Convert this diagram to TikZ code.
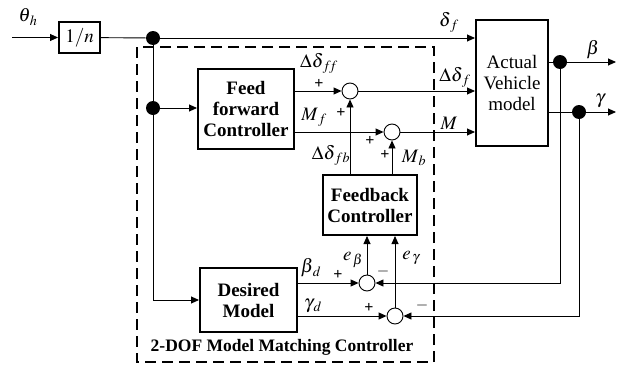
\documentclass[tikz,border=0pt]{standalone}
\usepackage{mathptmx}
\usepackage{fontspec}
\setmainfont{Liberation Serif}
\usetikzlibrary{arrows.meta,calc}
\begin{document}
\begin{tikzpicture}[x=1pt,y=-1pt,
  line width=0.9pt,
  arr/.style={-{Triangle[length=8pt,width=7pt]}},
  blk/.style={draw,line width=2pt,inner sep=0pt,align=center,
    font=\bfseries\fontsize{19}{21}\selectfont},
  nblk/.style={draw,line width=2pt,inner sep=0pt,align=center,
    font=\fontsize{19}{21}\selectfont},
  sumj/.style={draw,circle,minimum size=16pt,inner sep=0pt,line width=0.9pt},
  dotj/.style={fill,circle,minimum size=14pt,inner sep=0pt},
  lbl/.style={inner sep=0pt,font=\fontsize{19}{21}\selectfont},
  sgn/.style={inner sep=0pt,font=\bfseries\fontsize{16}{18}\selectfont},
  dashbox/.style={draw,line width=1.8pt,dash pattern=on 11pt off 6pt}
]
\useasboundingbox (0,0) rectangle (617,367);

% dashed controller frame
\draw[dashbox] (137,47) rectangle (434,362);

% blocks
\node[nblk,minimum width=41pt,minimum height=31pt] (inv) at (79.5,37.5) {$1/n$};
\node[blk,minimum width=96pt,minimum height=80pt] (ff) at (246,109) {Feed\\forward\\Controller};
\node[blk,minimum width=94pt,minimum height=60pt] (fb) at (370,205) {Feedback\\Controller};
\node[blk,minimum width=97pt,minimum height=64pt] (dm) at (248.5,300) {Desired\\Model};
\node[nblk,minimum width=72pt,minimum height=126pt] (av) at (512,83) {Actual\\Vehicle\\model};

% junctions
\node[dotj] (d1) at (153,38) {};
\node[dotj] (d2) at (153,108) {};
\node[dotj] (db) at (560,62) {};
\node[dotj] (dg) at (579,112) {};
\node[sumj] (s1) at (350,91) {};
\node[sumj] (s2) at (392,132) {};
\node[sumj] (s3) at (367,283) {};
\node[sumj] (s4) at (395,316) {};

\coordinate (thin) at (12,37.5);
\coordinate (bout) at (616,62);
\coordinate (gout) at (616,112);

% connectors
\draw[arr] (thin) -- (inv);
\draw (inv) -- (d1);
\draw[arr] (d1) -- (d1 -| av.west);
\draw (d1) -- (d2);
\draw[arr] (d2) -- (d2 -| ff.west);
\draw[arr] (d2) |- (dm.west);
\draw[arr] (ff.east |- s1) -- (s1.west);
\draw[arr] (ff.east |- s2) -- (s2.west);
\draw[arr] (s1) -- (s1 -| av.west);
\draw[arr] (s2) -- (s2 -| av.west);
\draw[arr] (fb.north -| s1) -- (s1.south);
\draw[arr] (fb.north -| s2) -- (s2.south);
\draw[arr] (s3) -- (s3 |- fb.south);
\draw[arr] (s4) -- (s4 |- fb.south);
\draw[arr] (dm.east |- s3) -- (s3.west);
\draw[arr] (dm.east |- s4) -- (s4.west);
\draw (av.east |- db) -- (db);
\draw[arr] (db) -- (bout);
\draw (av.east |- dg) -- (dg);
\draw[arr] (dg) -- (gout);
\draw[arr] (db) |- (s3.east);
\draw[arr] (dg) |- (s4.east);

% labels
\node[lbl] (lth) at (28,17) {$\theta_{\,h}$};
\node[lbl] (ldf) at (449,22) {$\delta_{\,f}$};
\node[lbl] (lddff) at (319,63) {$\Delta\delta_{\,f\!f}$};
\node[lbl] (lddf) at (455,77) {$\Delta\delta_{\,f}$};
\node[lbl] (lMf) at (314,117) {$M_{\,f}$};
\node[lbl] (lM) at (449,123) {$M$};
\node[lbl] (lddfb) at (331,155) {$\Delta\delta_{\,fb}$};
\node[lbl] (lMb) at (414,158) {$M_{\,b}$};
\node[lbl] (leb) at (353,260) {$e_{\,\beta}$};
\node[lbl] (leg) at (411,258) {$e_{\,\gamma}$};
\node[lbl] (lbd) at (311,268) {$\beta_{\,d}$};
\node[lbl] (lgd) at (313,306) {$\gamma_{\,d}$};
\node[lbl] (lb) at (593,50) {$\beta$};
\node[lbl] (lg) at (600,101) {$\gamma$};

\node[sgn] (p1) at (319,84) {+};
\node[sgn] (p2) at (341,113) {+};
\node[sgn] (p3) at (370,141) {+};
\node[sgn] (p4) at (385,155) {+};
\node[sgn] (p5) at (338,275) {+};
\node[sgn] (p6) at (369,308) {+};
\node[sgn] (m1) at (383,271) {$-$};
\node[sgn] (m2) at (422,305) {$-$};

\node[inner sep=0pt,font=\bfseries\fontsize{17.5}{20}\selectfont] (title) at (282,347) {2-DOF Model Matching Controller};
\end{tikzpicture}
\end{document}
